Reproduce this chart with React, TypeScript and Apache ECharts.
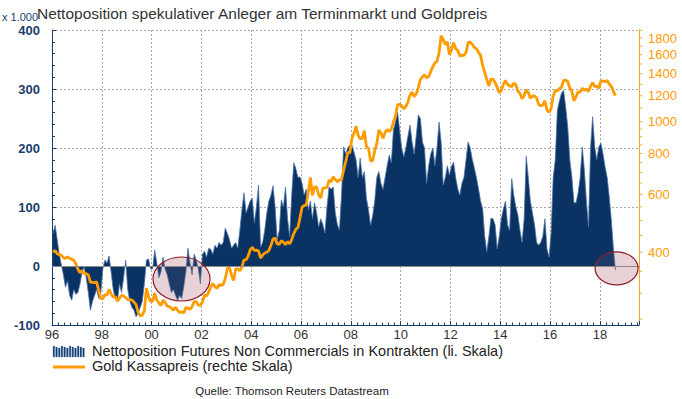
import React, { useEffect, useRef } from "react";
import * as echarts from "echarts";

// ---- data (monthly, Jan 1996 - Aug 2018) ----
const START_YEAR = 1996;

// Net position of non-commercials in gold futures, thousands of contracts
const netPositions: number[] = [
  55, 69, 45, 20, 2, -15, -36, -25, -50, -58, -40, -48,
  -45, -30, -10, -2, -20, -45, -75, -60, -50, -40, -55, -45,
  -5, 10, 5, 17, -10, -40, -55, -60, -30, -45, -20, 10,
  -40, -60, -70, -75, -86, -80, -70, -60, -30, 10, 12, -5,
  -5, 27, 5, -20, -10, 15, -5, -15, -30, -45, -40, -50,
  -58, -50, -55, -35, -10, 30, 5, -15, 20, 10, -5, -30,
  20, 25, 15, 30, 28, 20, 35, 30, 40, 35, 40, 64,
  55, 45, 30, 35, 40, 30, 60, 95, 124, 90, 100, 110,
  115, 73, 100, 137, 32, 40, 60, 90, 110, 120, 136, 100,
  44, 60, 112, 100, 134, 80, 50, 120, 175, 165, 150, 151,
  140, 120, 130, 95, 110, 80, 107, 90, 66, 80, 70, 56,
  100, 134, 130, 134, 90, 70, 61, 120, 202, 190, 200, 205,
  205, 193, 180, 150, 183, 150, 160, 115, 95, 69, 85, 110,
  150, 160, 140, 130, 150, 170, 188, 175, 230, 244, 261, 230,
  200, 185, 200, 220, 239, 210, 190, 220, 256, 250, 210, 200,
  140, 170, 190, 200, 170, 200, 244, 210, 137, 150, 170, 154,
  169, 176, 150, 131, 120, 140, 150, 180, 210, 200, 181, 166,
  150, 131, 110, 97, 50, 24, 50, 81, 80, 70, 29, 50,
  80, 97, 110, 70, 60, 148, 120, 100, 86, 60, 40, 80,
  186, 150, 110, 90, 70, 40, 35, 40, 50, 80, 29, 15,
  56, 150, 180, 264, 280, 293, 298, 270, 236, 180, 151, 107,
  107, 124, 150, 202, 163, 110, 66, 200, 253, 202, 180, 202,
  208, 190, 168, 150, 117, 78, 30, -7,
];

// Gold spot price, USD per ounce
const goldPrice: number[] = [
  400, 405, 396, 393, 392, 385, 383, 387, 383, 381, 378, 369,
  355, 346, 352, 344, 344, 341, 324, 324, 323, 325, 306, 289,
  289, 297, 296, 308, 299, 292, 293, 284, 289, 296, 294, 291,
  287, 287, 286, 282, 277, 262, 256, 257, 265, 311, 293, 283,
  284, 300, 286, 280, 275, 286, 281, 274, 273, 270, 266, 272,
  266, 262, 263, 261, 272, 270, 268, 273, 283, 283, 276, 276,
  282, 296, 294, 302, 314, 321, 314, 310, 319, 317, 319, 333,
  357, 359, 341, 328, 355, 356, 351, 360, 379, 379, 389, 407,
  414, 405, 406, 404, 384, 392, 398, 400, 405, 420, 439, 442,
  424, 423, 434, 429, 422, 431, 424, 437, 456, 470, 476, 510,
  549, 555, 557, 610, 676, 596, 633, 632, 598, 586, 627, 629,
  631, 664, 655, 679, 667, 655, 665, 665, 712, 754, 806, 803,
  889, 922, 968, 909, 888, 889, 939, 839, 829, 760, 760, 816,
  858, 943, 924, 890, 928, 946, 934, 949, 996, 1043, 1127, 1130,
  1117, 1095, 1113, 1148, 1205, 1232, 1193, 1215, 1271, 1343, 1370, 1391,
  1360, 1374, 1424, 1473, 1510, 1529, 1620, 1830, 1780, 1720, 1750, 1600,
  1656, 1742, 1673, 1650, 1585, 1596, 1594, 1626, 1744, 1747, 1722, 1684,
  1671, 1627, 1593, 1485, 1414, 1343, 1286, 1347, 1349, 1316, 1275, 1225,
  1244, 1300, 1336, 1299, 1287, 1279, 1311, 1296, 1239, 1222, 1176, 1200,
  1251, 1227, 1178, 1198, 1199, 1181, 1130, 1117, 1125, 1159, 1086, 1068,
  1097, 1200, 1246, 1242, 1260, 1276, 1336, 1340, 1326, 1266, 1238, 1157,
  1192, 1234, 1231, 1266, 1246, 1260, 1236, 1283, 1315, 1280, 1283, 1265,
  1331, 1331, 1325, 1335, 1303, 1282, 1238, 1201,
];

// Axis settings / labels
const X_MIN = 1996;
const X_MAX = 2019.57;
const X_INTERVAL = 2;
const LEFT_MIN = -100;
const LEFT_MAX = 400;
const LEFT_INTERVAL = 100;
const RIGHT_MIN = 240;
const RIGHT_MAX = 1904;
const rightLabels: number[] = [400, 600, 800, 1000, 1200, 1400, 1600, 1800];
const rightMinorTicks: number[] = [
  250, 300, 350, 400, 450, 500, 550, 600, 650, 700, 750, 800, 850, 900, 950,
  1000, 1100, 1200, 1300, 1400, 1500, 1600, 1700, 1800, 1900,
];

// Highlighted regions (centre in data coordinates)
const highlightCenters: [number, number][] = [
  [2001.2, -22],
  [2018.67, -4],
];

const titleText = "Nettoposition spekulativer Anleger am Terminmarkt und Goldpreis";
const unitText = "x 1.000";
const legendNames = [
  "Nettoposition Futures Non Commercials in Kontrakten (li. Skala)",
  "Gold Kassapreis (rechte Skala)",
];
const sourceText = "Quelle: Thomson Reuters Datastream";

const NAVY = "#0a3263";
const NAVY_TEXT = "#1b3d6d";
const ORANGE = "#ff9c00";
const FONT = "'Liberation Sans', Arial, sans-serif";

export default function App() {
  const ref = useRef<HTMLDivElement>(null);

  useEffect(() => {
    document.body.style.margin = "0";
    const chart = echarts.init(ref.current!, null, { renderer: "svg" });
    const netData = netPositions.map((v, i) => [START_YEAR + (i + 0.5) / 12, v]);
    const goldData = goldPrice.map((v, i) => [START_YEAR + (i + 0.5) / 12, v]);

    chart.setOption({
      animation: false,
      textStyle: { fontFamily: FONT },
      grid: { left: 52, right: 43, top: 30, bottom: 74 },
      xAxis: {
        type: "value",
        min: X_MIN,
        max: X_MAX,
        interval: X_INTERVAL,
        axisLine: { show: true, onZero: false, lineStyle: { color: NAVY_TEXT, width: 1 } },
        axisTick: { show: true, inside: true, length: 4, lineStyle: { color: NAVY_TEXT } },
        minorTick: { show: true, splitNumber: 8, length: 2.5, lineStyle: { color: NAVY_TEXT } },
        axisLabel: {
          color: "#333",
          fontSize: 13,
          margin: 3,
          showMaxLabel: false,
          formatter: (v: number) =>
            Math.abs(v - Math.round(v)) < 1e-6 ? String(Math.round(v) % 100).padStart(2, "0") : "",
        },
        splitLine: { show: true, lineStyle: { color: "#a8a8a8", type: [2, 2], width: 1 } },
      },
      yAxis: [
        {
          type: "value",
          min: LEFT_MIN,
          max: LEFT_MAX,
          interval: LEFT_INTERVAL,
          position: "left",
          axisLine: { show: true, onZero: false, lineStyle: { color: NAVY_TEXT, width: 1 } },
          axisTick: { show: true, inside: true, length: 4, lineStyle: { color: NAVY_TEXT } },
          minorTick: { show: true, splitNumber: 5, length: 3, lineStyle: { color: NAVY_TEXT } },
          axisLabel: { color: NAVY_TEXT, fontSize: 13, fontWeight: "bold", margin: 12 },
          splitLine: { show: true, lineStyle: { color: "#a8a8a8", type: [2, 2], width: 1 } },
        },
        {
          type: "log",
          logBase: 10,
          min: RIGHT_MIN,
          max: RIGHT_MAX,
          position: "right",
          axisLine: { show: true, lineStyle: { color: "#f5a623", width: 1 } },
          axisTick: { show: false },
          minorTick: { show: false },
          axisLabel: { show: false },
          splitLine: { show: false },
        },
      ],
      series: [
        {
          name: legendNames[0],
          type: "line",
          yAxisIndex: 0,
          data: netData,
          symbol: "none",
          lineStyle: { color: "#4d73a6", width: 0.8 },
          areaStyle: { color: NAVY, opacity: 1, origin: 0 },
          z: 2,
          markLine: {
            silent: true,
            symbol: "none",
            label: { show: false },
            lineStyle: { color: "#8c8c8c", width: 1, type: "solid" },
            data: [{ yAxis: 0 }],
          },
        },
        {
          name: legendNames[1],
          type: "line",
          yAxisIndex: 1,
          data: goldData,
          symbol: "none",
          lineStyle: { color: ORANGE, width: 2.8 },
          z: 3,
        },
      ],
    });

    // Positions from the library's scales
    const rightX = chart.convertToPixel({ xAxisIndex: 0 }, X_MAX) as number;
    const graphics: any[] = [];

    rightMinorTicks.forEach((v) => {
      const py = chart.convertToPixel({ yAxisIndex: 1 }, v) as number;
      graphics.push({
        type: "line",
        z: 20,
        shape: { x1: rightX, y1: py, x2: rightX + 3, y2: py },
        style: { stroke: "#f5a623", lineWidth: 1 },
      });
    });
    rightLabels.forEach((v) => {
      const py = chart.convertToPixel({ yAxisIndex: 1 }, v) as number;
      graphics.push({
        type: "text",
        z: 20,
        x: rightX + 9,
        y: py,
        style: {
          text: String(v),
          fill: ORANGE,
          fontSize: 13,
          fontFamily: FONT,
          align: "left",
          verticalAlign: "middle",
        },
      });
    });

    const radii: [number, number][] = [
      [28.5, 22],
      [21.5, 16.5],
    ];
    highlightCenters.forEach((c, i) => {
      const p = chart.convertToPixel({ xAxisIndex: 0, yAxisIndex: 0 }, c) as number[];
      graphics.push({
        type: "ellipse",
        z: 1,
        silent: true,
        shape: { cx: p[0], cy: p[1], rx: radii[i][0], ry: radii[i][1] },
        style: { fill: "#efdfe1", stroke: "none" },
      });
      graphics.push({
        type: "ellipse",
        z: 50,
        silent: true,
        shape: { cx: p[0], cy: p[1], rx: radii[i][0], ry: radii[i][1] },
        style: { fill: "rgba(180,120,130,0.12)", stroke: "#8e1f28", lineWidth: 1.2 },
      });
    });

    // title and unit
    graphics.push({
      type: "text",
      z: 20,
      x: 37,
      y: 13,
      style: { text: titleText, fill: "#333", fontSize: 15.5, fontFamily: FONT, verticalAlign: "middle" },
    });
    graphics.push({
      type: "text",
      z: 20,
      x: 2,
      y: 17,
      style: { text: unitText, fill: NAVY_TEXT, fontSize: 11, fontFamily: FONT, verticalAlign: "middle" },
    });

    // legend
    const stripes: any[] = [];
    for (let k = 0; k < 12; k++) {
      const top = 346 + (k % 3);
      stripes.push({
        type: "rect",
        shape: { x: 53 + k * 2.7, y: top, width: 1.7, height: 357 - top },
        style: { fill: NAVY, stroke: "#6d8fbf", lineWidth: 0.4 },
      });
    }
    graphics.push({ type: "group", z: 20, children: stripes });
    graphics.push({
      type: "line",
      z: 20,
      shape: { x1: 53, y1: 367, x2: 85, y2: 367 },
      style: { stroke: ORANGE, lineWidth: 3 },
    });
    legendNames.forEach((n, i) => {
      graphics.push({
        type: "text",
        z: 20,
        x: 92,
        y: 351 + i * 15,
        style: { text: n, fill: "#222", fontSize: 14.5, fontFamily: FONT, verticalAlign: "middle" },
      });
    });
    graphics.push({
      type: "text",
      z: 20,
      x: 292,
      y: 391,
      style: {
        text: sourceText,
        fill: "#222",
        fontSize: 11.5,
        fontFamily: FONT,
        align: "center",
        verticalAlign: "middle",
      },
    });

    chart.setOption({ graphic: graphics });

    return () => {
      chart.dispose();
    };
  }, []);

  return <div ref={ref} style={{ width: 682, height: 399, background: "#fff" }} />;
}
